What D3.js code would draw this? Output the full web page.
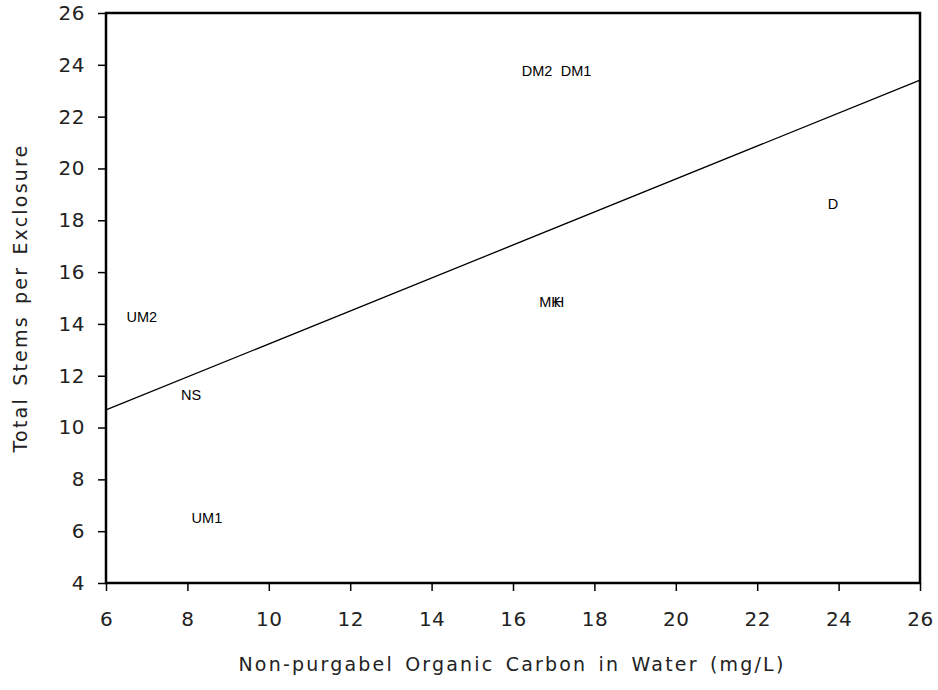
<!DOCTYPE html>
<html>
<head>
<meta charset="utf-8">
<script src="https://cdn.jsdelivr.net/npm/d3@7"></script>
<style>
  body { margin: 0; background: #fff; }
</style>
</head>
<body>
<div id="chart"></div>
<script>
const labels = ["DM2", "DM1", "D", "MK", "H", "UM2", "NS", "UM1"];
const carbon = [16.59, 17.55, 23.86, 16.91, 17.13, 6.88, 8.09, 8.48];
const stems = [23.78, 23.78, 18.63, 14.85, 14.85, 14.28, 11.27, 6.51];
const fitX = [6, 26];
const fitY = [10.68, 23.41];
const xTicks = [6, 8, 10, 12, 14, 16, 18, 20, 22, 24, 26];
const yTicks = [4, 6, 8, 10, 12, 14, 16, 18, 20, 22, 24, 26];

const width = 938, height = 690;
const plotLeft = 106, plotRight = 920, plotTop = 13, plotBottom = 583;

const svg = d3.select("#chart").append("svg")
  .attr("width", width)
  .attr("height", height);

const x = d3.scaleLinear().domain([6, 26]).range([plotLeft, plotRight]);
const y = d3.scaleLinear().domain([4, 26]).range([plotBottom, plotTop]);

const tickFont = "'DejaVu Sans', Verdana, sans-serif";

// axes
const gx = svg.append("g")
  .attr("transform", "translate(0," + plotBottom + ")")
  .call(d3.axisBottom(x).tickValues(xTicks).tickSize(8).tickPadding(21).tickFormat(d3.format("d")));
const gy = svg.append("g")
  .attr("transform", "translate(" + plotLeft + ",0)")
  .call(d3.axisLeft(y).tickValues(yTicks).tickSize(8).tickPadding(13).tickFormat(d3.format("d")));

[gx, gy].forEach(g => {
  g.select(".domain").remove();
  g.selectAll("line").attr("stroke", "#000").attr("stroke-width", 1.5);
  g.selectAll("text")
    .attr("font-family", tickFont)
    .attr("font-size", "20px")
    .attr("fill", "#222")
    .style("letter-spacing", "0.5px");
});

// frame
svg.append("rect")
  .attr("x", plotLeft)
  .attr("y", plotTop)
  .attr("width", plotRight - plotLeft)
  .attr("height", plotBottom - plotTop)
  .attr("fill", "none")
  .attr("stroke", "#000")
  .attr("stroke-width", 2.5);

// regression line
svg.append("line")
  .attr("x1", x(fitX[0]))
  .attr("y1", y(fitY[0]))
  .attr("x2", x(fitX[1]))
  .attr("y2", y(fitY[1]))
  .attr("stroke", "#000")
  .attr("stroke-width", 1.3);

// point labels
labels.forEach((l, i) => {
  svg.append("text")
    .attr("x", x(carbon[i]))
    .attr("y", y(stems[i]))
    .attr("dy", "0.35em")
    .attr("text-anchor", "middle")
    .attr("font-family", "'Liberation Sans', Arial, sans-serif")
    .attr("font-size", "14.5px")
    .attr("fill", "#000")
    .text(l);
});

// axis titles
svg.append("text")
  .attr("x", 512)
  .attr("y", 671)
  .attr("text-anchor", "middle")
  .attr("font-family", tickFont)
  .attr("font-size", "19px")
  .attr("fill", "#222")
  .style("letter-spacing", "2.2px")
  .style("word-spacing", "3px")
  .text("Non-purgabel Organic Carbon in Water (mg/L)");

svg.append("text")
  .attr("transform", "rotate(-90)")
  .attr("x", -298)
  .attr("y", 27)
  .attr("text-anchor", "middle")
  .attr("font-family", tickFont)
  .attr("font-size", "19px")
  .attr("fill", "#222")
  .style("letter-spacing", "2.2px")
  .style("word-spacing", "3px")
  .text("Total Stems per Exclosure");
</script>
</body>
</html>
